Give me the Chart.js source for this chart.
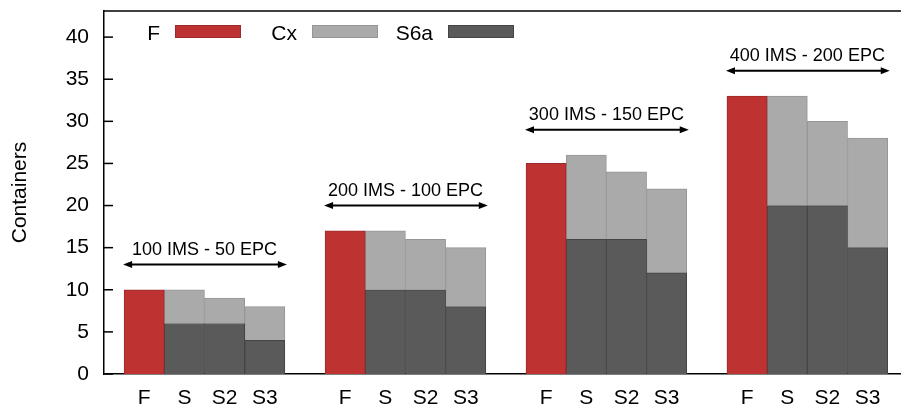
<!DOCTYPE html>
<html><head><meta charset="utf-8">
<script src="https://cdn.jsdelivr.net/npm/chart.js@4"></script>
<style>html,body{margin:0;padding:0;background:#fff}#wrap{width:901px;height:408px}</style>
</head><body><div id="wrap"><canvas id="c" width="901" height="408"></canvas></div>
<script>
const groupLabels = ['100 IMS - 50 EPC', '200 IMS - 100 EPC', '300 IMS - 150 EPC', '400 IMS - 200 EPC'];
const barLabels = ['F', 'S', 'S2', 'S3'];
const fValues = [10, 17, 25, 33];
const s6aValues = [[6, 6, 4], [10, 10, 8], [16, 16, 12], [20, 20, 15]];
const cxValues = [[4, 3, 4], [7, 6, 7], [10, 8, 10], [13, 10, 13]];
const yTicks = [0, 5, 10, 15, 20, 25, 30, 35, 40];
const legendOrder = ['F', 'Cx', 'S6a'];
const arrowLevels = [13, 20, 29, 36];

const FONT = 'Liberation Sans, Arial, Helvetica, sans-serif';
const SLOTS_PER_GROUP = 5;

const fData = fValues.map((v, g) => ({x: g * SLOTS_PER_GROUP, y: v}));
const s6aData = [], cxData = [];
s6aValues.forEach((arr, g) => arr.forEach((v, k) => s6aData.push({x: g * SLOTS_PER_GROUP + 1 + k, y: v})));
cxValues.forEach((arr, g) => arr.forEach((v, k) => cxData.push({x: g * SLOTS_PER_GROUP + 1 + k, y: v})));
const tickPositions = [];
groupLabels.forEach((_, g) => barLabels.forEach((_, k) => tickPositions.push(g * SLOTS_PER_GROUP + k)));

const decor = {
  id: 'decor',
  afterDatasetsDraw(chart) {
    const ctx = chart.ctx, a = chart.chartArea;
    const xs = chart.scales.x, ys = chart.scales.y;
    ctx.save();
    ctx.strokeStyle = '#000';
    ctx.lineWidth = 1.5;
    ctx.beginPath(); ctx.moveTo(a.left, a.top); ctx.lineTo(a.right, a.top); ctx.stroke();
    yTicks.forEach(v => {
      const y = ys.getPixelForValue(v);
      ctx.beginPath(); ctx.moveTo(a.left, y); ctx.lineTo(a.left + 9, y); ctx.stroke();
    });
    ctx.fillStyle = '#000';
    groupLabels.forEach((lab, g) => {
      const base = g * SLOTS_PER_GROUP;
      const x1 = xs.getPixelForValue(base - 0.5) - 1;
      const x2 = xs.getPixelForValue(base + 3.5) + 2;
      const y = ys.getPixelForValue(arrowLevels[g]);
      ctx.lineWidth = 2;
      ctx.beginPath(); ctx.moveTo(x1 + 4, y); ctx.lineTo(x2 - 4, y); ctx.stroke();
      ctx.beginPath(); ctx.moveTo(x1, y); ctx.lineTo(x1 + 9, y - 3.5); ctx.lineTo(x1 + 9, y + 3.5); ctx.closePath(); ctx.fill();
      ctx.beginPath(); ctx.moveTo(x2, y); ctx.lineTo(x2 - 9, y - 3.5); ctx.lineTo(x2 - 9, y + 3.5); ctx.closePath(); ctx.fill();
      ctx.font = '18px ' + FONT;
      ctx.textAlign = 'center'; ctx.textBaseline = 'alphabetic';
      ctx.fillText(lab, xs.getPixelForValue(base + 1.5), y - 10);
    });
    const boxX = [175, 312, 448];
    legendOrder.forEach((name, i) => {
      const ds = chart.data.datasets.find(d => d.label === name);
      ctx.fillStyle = ds.borderColor;
      ctx.fillRect(boxX[i], 25, 66, 13);
      ctx.fillStyle = ds.backgroundColor;
      ctx.fillRect(boxX[i] + 1, 26, 64, 11);
      ctx.fillStyle = '#000';
      ctx.font = '21px ' + FONT;
      ctx.textAlign = 'right'; ctx.textBaseline = 'alphabetic';
      ctx.fillText(name, boxX[i] - 15, 40);
    });
    ctx.restore();
  }
};

new Chart(document.getElementById('c'), {
  type: 'bar',
  data: {
    datasets: [
      {label: 'F', data: fData, backgroundColor: '#be3232', borderColor: '#9c2a2a', borderWidth: 1},
      {label: 'S6a', data: s6aData, backgroundColor: '#5a5a5a', borderColor: '#444444', borderWidth: 1},
      {label: 'Cx', data: cxData, backgroundColor: '#aaaaaa', borderColor: '#969696', borderWidth: 1}
    ]
  },
  options: {
    responsive: false,
    animation: false,
    devicePixelRatio: 1,
    layout: {padding: {top: 11, left: 0, right: 0, bottom: 0}},
    datasets: {bar: {barPercentage: 1, categoryPercentage: 1}},
    plugins: {legend: {display: false}, tooltip: {enabled: false}},
    scales: {
      x: {
        type: 'linear', min: -1, max: 18.83, stacked: true, offset: false,
        afterBuildTicks: s => { s.ticks = tickPositions.map(v => ({value: v})); },
        ticks: {
          callback: v => barLabels[Math.round(v) % SLOTS_PER_GROUP] || '',
          font: {family: FONT, size: 21}, color: '#000', padding: 12, autoSkip: false, maxRotation: 0
        },
        grid: {display: false, drawTicks: false},
        border: {display: true, color: '#000', width: 1.5},
        afterFit: s => { s.height = 34; s.paddingLeft = 0; s.paddingRight = 0; }
      },
      y: {
        min: 0, max: 43.1, stacked: true,
        afterBuildTicks: s => { s.ticks = yTicks.map(v => ({value: v})); },
        ticks: {font: {family: FONT, size: 21}, color: '#000', padding: 15},
        grid: {display: false, drawTicks: false},
        border: {display: true, color: '#000', width: 1.5},
        title: {display: true, text: 'Containers', font: {family: FONT, size: 21}, color: '#000', padding: {top: 8, bottom: 0}},
        afterFit: s => { s.width = 104; s.paddingTop = 0; s.paddingBottom = 0; }
      }
    }
  },
  plugins: [decor]
});
</script>
</body></html>
